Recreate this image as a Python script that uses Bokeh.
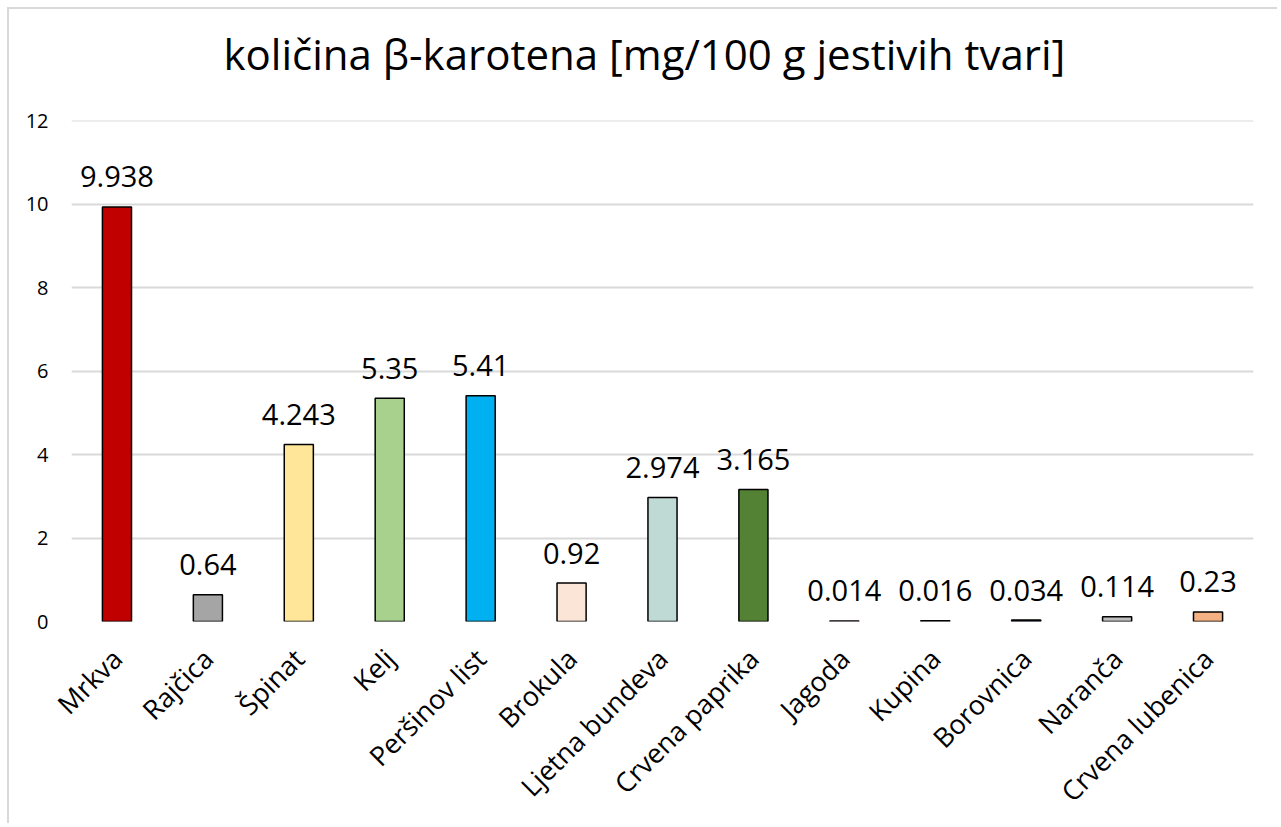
import math
from bokeh.plotting import figure
from bokeh.models import ColumnDataSource, FactorRange, Range1d, FixedTicker, Title
from bokeh.embed import file_html
from bokeh.resources import INLINE
from bokeh.core.properties import value

categories = ["Mrkva", "Rajčica", "Špinat", "Kelj", "Peršinov list", "Brokula",
              "Ljetna bundeva", "Crvena paprika", "Jagoda", "Kupina", "Borovnica",
              "Naranča", "Crvena lubenica"]
values = [9.938, 0.64, 4.243, 5.35, 5.41, 0.92, 2.974, 3.165, 0.014, 0.016, 0.034, 0.114, 0.23]
labels = ["9.938", "0.64", "4.243", "5.35", "5.41", "0.92", "2.974", "3.165",
          "0.014", "0.016", "0.034", "0.114", "0.23"]
colors = ["#C00000", "#A5A5A5", "#FFE699", "#A9D18E", "#00B0F0", "#FBE5D6",
          "#BFD9D5", "#548235", "#E2A0A0", "#7F6080", "#4472C4", "#BFBFBF", "#F4B183"]
y_ticks = [0, 2, 4, 6, 8, 10, 12]
title_text = "količina β-karotena [mg/100 g jestivih tvari]"

FONT = "Open Sans"

src = ColumnDataSource(dict(cat=categories, val=values, lab=labels, col=colors))

p = figure(x_range=FactorRange(*categories, range_padding=0),
           y_range=Range1d(0, 12.01),
           width=1270, height=816,
           output_backend="svg", toolbar_location=None,
           min_border_left=62, min_border_right=26,
           min_border_top=111, min_border_bottom=204)

# spacer between frame and title
p.add_layout(Title(text=" ", text_font=FONT, text_font_size="16px"), "above")
p.add_layout(Title(text=title_text, text_font=FONT, text_font_size="42px",
                   text_font_style="normal", text_color="#000000",
                   align="left", offset=152), "above")

p.vbar(x="cat", top="val", width=0.32, source=src, fill_color="col",
       line_color="#000000", line_width=1.5)

p.text(x="cat", y="val", text="lab", source=src, text_font=value(FONT),
       text_font_size="29px", text_align="center", text_baseline="alphabetic",
       y_offset=-30, text_color="#000000")

p.outline_line_color = None
p.xgrid.grid_line_color = None
p.ygrid.grid_line_color = "#d9d9d9"
p.ygrid.grid_line_width = 2
p.ygrid.ticker = FixedTicker(ticks=y_ticks)

p.yaxis.ticker = FixedTicker(ticks=y_ticks)
p.yaxis.axis_line_color = None
p.yaxis.major_tick_line_color = None
p.yaxis.minor_tick_line_color = None
p.yaxis.major_label_text_font = FONT
p.yaxis.major_label_text_font_size = "20px"
p.yaxis.major_label_text_color = "#000000"
p.yaxis.major_label_standoff = 17

p.xaxis.axis_line_color = None
p.xaxis.major_tick_line_color = None
p.xaxis.major_label_text_font = FONT
p.xaxis.major_label_text_font_size = "27px"
p.xaxis.major_label_text_color = "#000000"
p.xaxis.major_label_orientation = math.pi / 4
p.xaxis.major_label_standoff = 26

p.styles = {"margin-left": "7px", "margin-top": "7px",
            "border-top": "2px solid #d9d9d9", "border-left": "2px solid #d9d9d9"}

open("out.html", "w").write(file_html(p, INLINE))
